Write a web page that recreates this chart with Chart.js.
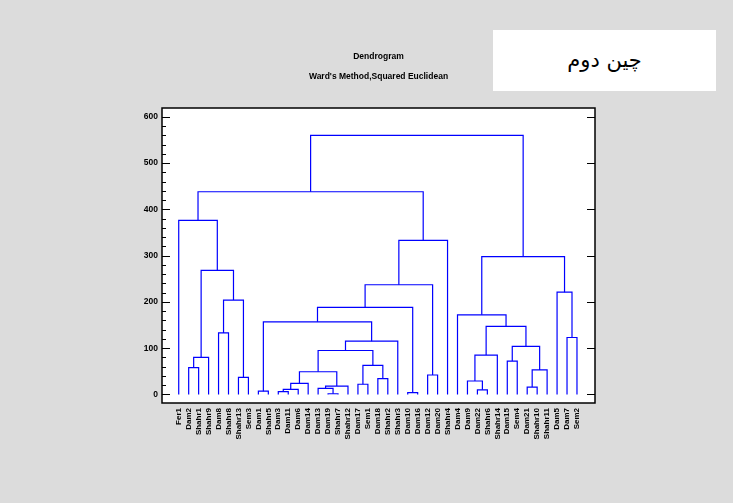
<!DOCTYPE html>
<html><head><meta charset="utf-8">
<script src="https://cdn.jsdelivr.net/npm/chart.js@4.4.0/dist/chart.umd.min.js"></script>
<style>
html,body{margin:0;padding:0;background:#dcdcdc;}
#wrap{position:relative;width:733px;height:503px;}
#note{position:absolute;left:493px;top:30px;width:223px;height:61px;background:#fff;font-family:"DejaVu Sans",sans-serif;font-size:21px;line-height:61px;text-align:center;direction:rtl;color:#000;}
</style></head><body>
<div id="wrap"><canvas id="c" width="733" height="503"></canvas><div id="note">چین دوم</div></div>
<script>
// Leaf order along the x axis
const leafLabels = ["Fer1","Dam2","Shahr1","Shahr9","Dam8","Shahr8","Shahr13","Sem3","Dam1","Shahr5",
  "Dam3","Dam11","Dam6","Dam14","Dam13","Dam19","Shahr7","Shahr12","Dam17","Sem1",
  "Dam18","Shahr2","Shahr3","Dam10","Dam16","Dam12","Dam20","Shahr4","Dam4","Dam9",
  "Dam22","Shahr6","Shahr14","Dam15","Sem4","Dam21","Shahr10","Shahr11","Dam5","Dam7","Sem2"];
// Merges: child ids (0..40 = leaves, 41+k = k-th merge) and merge distance
const mergeLeft  = [15,23, 8,10,44,30,14,35,47,18,45,29,20, 6,25,51,48, 1,50,33,58,52,56,60,63,39, 4,62,43,28,69,67,38,71,61,70,74, 0,78,79];
const mergeRight = [16,24, 9,11,12,31,41,36,17,19,13,46,21, 7,26,49,37, 2,53,34, 3,32,59,57,22,40, 5,64,65,68,42,54,66,55,72,73,27,75,77,76];
const mergeHeight= [1.5,4, 7, 6,11,10,13,16,18,22,24,29,34,37,42,49,53,58,63,72,80,85,95,104,115,123,133,147,157,172,188,204,221,237,268,298,333,376,438,560];
const yTickValues = [0,100,200,300,400,500,600];
const yMinorStep = 20;

const pos = leafLabels.map((_, i) => i);
const hgt = leafLabels.map(() => 0);
const datasets = [];
mergeLeft.forEach((l, k) => {
  const r = mergeRight[k], h = mergeHeight[k];
  datasets.push({
    data: [{x: pos[l], y: hgt[l]}, {x: pos[l], y: h}, {x: pos[r], y: h}, {x: pos[r], y: hgt[r]}],
    showLine: true, borderColor: '#0000ff', borderWidth: 1.2, pointRadius: 0, fill: false, tension: 0
  });
  pos.push((pos[l] + pos[r]) / 2);
  hgt.push(h);
});

const FONT = "'Liberation Sans', Arial, sans-serif";

const framePlugin = {
  id: 'frame',
  beforeDatasetsDraw(chart) {
    const {ctx, chartArea: a} = chart;
    ctx.save();
    ctx.fillStyle = '#fff';
    ctx.fillRect(a.left, a.top, a.right - a.left, a.bottom - a.top);
    ctx.restore();
  },
  afterDatasetsDraw(chart) {
    const {ctx, chartArea: a} = chart;
    const ys = chart.scales.y;
    ctx.save();
    ctx.strokeStyle = '#000';
    ctx.lineWidth = 1.5;
    ctx.strokeRect(a.left, a.top, a.right - a.left, a.bottom - a.top);
    ctx.lineWidth = 1.2;
    ctx.beginPath();
    const lo = yTickValues[0], hi = yTickValues[yTickValues.length - 1];
    for (let v = lo; v <= hi + 1e-9; v += yMinorStep) {
      const major = yTickValues.includes(v);
      const y = Math.round(ys.getPixelForValue(v)) + 0.5;
      const len = major ? 8 : 4;
      ctx.moveTo(a.left, y); ctx.lineTo(a.left + len, y);
      if (major) { ctx.moveTo(a.right, y); ctx.lineTo(a.right - len, y); }
    }
    ctx.stroke();
    ctx.restore();
  }
};

new Chart(document.getElementById('c'), {
  type: 'scatter',
  data: {datasets},
  plugins: [framePlugin],
  options: {
    responsive: false, animation: false, devicePixelRatio: 1,
    layout: {padding: {left: 0, right: 138, top: 0, bottom: 0}},
    plugins: {
      legend: {display: false}, tooltip: {enabled: false},
      title: {display: true, text: 'Dendrogram', fullSize: false, color: '#000',
        font: {family: FONT, size: 8.5, weight: 'bold', lineHeight: 1.2}, padding: {top: 51.6, bottom: 0}},
      subtitle: {display: true, text: "Ward's Method,Squared Euclidean", fullSize: false, color: '#000',
        font: {family: FONT, size: 8.5, weight: 'bold', lineHeight: 1.2}, padding: {top: 9.8, bottom: 26.2}}
    },
    scales: {
      x: {
        type: 'linear', min: -1.68, max: 41.81,
        grid: {display: false, drawTicks: false}, border: {display: false},
        afterBuildTicks: s => { s.ticks = leafLabels.map((_, i) => ({value: i})); },
        afterFit: s => { s.height = 100; },
        ticks: {autoSkip: false, minRotation: 90, maxRotation: 90, padding: 5, color: '#000',
          font: {family: FONT, size: 8, weight: 'bold'},
          callback: v => leafLabels[v] ?? ''}
      },
      y: {
        type: 'linear', min: -18.5, max: 619,
        grid: {display: false, drawTicks: false}, border: {display: false},
        afterBuildTicks: s => { s.ticks = yTickValues.map(v => ({value: v})); },
        afterFit: s => { s.width = 162; },
        ticks: {padding: 4, color: '#000', font: {family: FONT, size: 8.5, weight: 'bold'}}
      }
    }
  }
});
</script>
</body></html>
